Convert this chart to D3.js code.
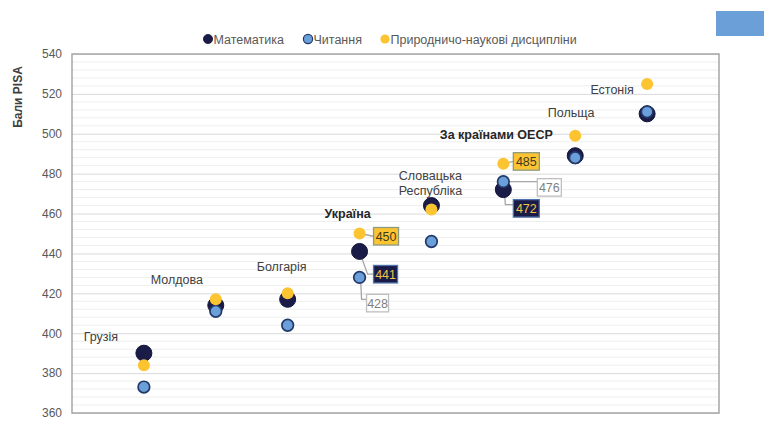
<!DOCTYPE html>
<html>
<head>
  <meta charset="utf-8">
  <title>Бали PISA</title>
  <script src="https://d3js.org/d3.v7.min.js"></script>
  <style>
    body { margin: 0; background: #fff; }
    text { font-family: "Liberation Sans", Arial, sans-serif; }
  </style>
</head>
<body>
<div id="viz_1"></div>

<script>

  // data
  var countries = ["Грузія", "Молдова", "Болгарія", "Україна", "Словацька Республіка",
    "За країнами ОЕСР", "Польща", "Естонія"];
  var mathScores = [390, 414, 417, 441, 464, 472, 489, 510];
  var readingScores = [373, 411, 404, 428, 446, 476, 488, 511];
  var scienceScores = [384, 417, 420, 450, 462, 485, 499, 525];
  var seriesNames = ["Математика", "Читання", "Природничо-наукові дисципліни"];
  var yTicks = [360, 380, 400, 420, 440, 460, 480, 500, 520, 540];

  var series = [
    { name: seriesNames[0], values: mathScores, fill: "#1b1b48", stroke: "#14143a", r: 8, sw: 1 },
    { name: seriesNames[1], values: readingScores, fill: "#6a9fd9", stroke: "#22386a", r: 5.8, sw: 1.7 },
    { name: seriesNames[2], values: scienceScores, fill: "#fcc431", stroke: "none", r: 6, sw: 0 }
  ];

  var W = 764, H = 428;
  var margin = { top: 54, right: 45, bottom: 15, left: 72 };

  var svg = d3.select("#viz_1")
    .append("svg")
    .attr("width", W)
    .attr("height", H);

  // scales: categories sit on 1..n of a linear axis
  var x = d3.scaleLinear()
    .domain([0, countries.length + 1])
    .range([margin.left, W - margin.right]);

  var y = d3.scaleLinear()
    .domain([360, 540])
    .range([H - margin.bottom, margin.top]);

  // minor gridlines every 4 points
  svg.append("g")
    .selectAll("line")
    .data(d3.range(360, 541, 4).filter(function (v) { return v % 20 != 0 }))
    .enter()
    .append("line")
    .attr("x1", x(0)).attr("x2", x(countries.length + 1))
    .attr("y1", function (d) { return y(d) }).attr("y2", function (d) { return y(d) })
    .attr("stroke", "#eeeeee")
    .attr("stroke-width", 1);

  // major gridlines and tick labels
  var yAxis = svg.append("g")
    .attr("transform", "translate(" + margin.left + ",0)")
    .call(d3.axisLeft(y).tickValues(yTicks).tickSize(-(x(countries.length + 1) - x(0))).tickPadding(10));
  yAxis.select(".domain").remove();
  yAxis.selectAll(".tick line").attr("stroke", "#d9d9d9");
  yAxis.selectAll(".tick text")
    .attr("fill", "#595959")
    .style("font-size", "12px")
    .style("font-family", "'Liberation Sans', Arial, sans-serif");

  // plot frame
  svg.append("rect")
    .attr("x", x(0)).attr("y", y(540))
    .attr("width", x(countries.length + 1) - x(0))
    .attr("height", y(360) - y(540))
    .attr("fill", "none")
    .attr("stroke", "#a6a6a6")
    .attr("stroke-width", 1.5);

  // y title
  svg.append("text")
    .attr("transform", "translate(22," + 97 + ") rotate(-90)")
    .attr("text-anchor", "middle")
    .attr("fill", "#404040")
    .style("font-size", "12px")
    .style("font-weight", "bold")
    .text("Бали PISA");

  // callout leader lines + boxes (drawn before points)
  // dx/top: box offset from point, w: box width; kind picks style
  var callouts = [
    { c: 3, s: 2, dx: 14, top: -6, w: 25, kind: "y", elbow: "straight" },
    { c: 3, s: 0, dx: 14, top: 14, w: 24, kind: "n", elbow: "diag" },
    { c: 3, s: 1, dx: 7, top: 17, w: 22, kind: "w", elbow: "down" },
    { c: 5, s: 2, dx: 10, top: -11, w: 26, kind: "y", elbow: "straight" },
    { c: 5, s: 1, dx: 34, top: -3, w: 24, kind: "w", elbow: "flat" },
    { c: 5, s: 0, dx: 10, top: 10, w: 26, kind: "n", elbow: "down" }
  ];
  var boxStyle = {
    y: { fill: "#fcc431", stroke: "#8c9a80", text: "#403a20" },
    n: { fill: "#1b1b48", stroke: "#4f74ad", text: "#f2c347" },
    w: { fill: "#ffffff", stroke: "#bfbfbf", text: "#7f7f7f" }
  };
  var boxH = 17.5;

  var gCall = svg.append("g");
  callouts.forEach(function (d) {
    var px = x(d.c + 1), py = y(series[d.s].values[d.c]);
    var bx = px + d.dx, by = py + d.top, cy = by + boxH / 2;
    var path;
    if (d.elbow == "straight") path = [[px, py], [bx, cy]];
    else if (d.elbow == "diag") path = [[px, py], [bx - 6, cy], [bx, cy]];
    else if (d.elbow == "down") path = [[px + 1, py], [px + 2, by + 5], [bx, by + 5]];
    else path = [[px, py], [bx, py]];
    gCall.append("path")
      .attr("d", d3.line()(path))
      .attr("fill", "none")
      .attr("stroke", "#a6a6a6")
      .attr("stroke-width", 1.3);
    var st = boxStyle[d.kind];
    gCall.append("rect")
      .attr("x", bx).attr("y", by)
      .attr("width", d.w).attr("height", boxH)
      .attr("fill", st.fill)
      .attr("stroke", st.stroke)
      .attr("stroke-width", 1.3);
    gCall.append("text")
      .attr("x", bx + d.w / 2).attr("y", cy + 4.5)
      .attr("text-anchor", "middle")
      .attr("fill", st.text)
      .style("font-size", "12.5px")
      .text(series[d.s].values[d.c]);
  });

  // points: math, then reading, then science on top
  series.forEach(function (s) {
    svg.append("g")
      .selectAll("circle")
      .data(s.values)
      .enter()
      .append("circle")
      .attr("cx", function (d, i) { return x(i + 1) })
      .attr("cy", function (d) { return y(d) })
      .attr("r", s.r)
      .attr("fill", s.fill)
      .attr("stroke", s.stroke)
      .attr("stroke-width", s.sw);
  });

  // country labels: dx in px from the category, ly in score units
  var labelPos = [
    { dx: -43, ly: 396, bold: false },
    { dx: -39, ly: 424.5, bold: false },
    { dx: -6, ly: 431, bold: false },
    { dx: -12, ly: 458, bold: true },
    { dx: -1, ly: 477, bold: false },
    { dx: -7, ly: 497.6, bold: true },
    { dx: -4, ly: 508.5, bold: false },
    { dx: -35, ly: 519.8, bold: false }
  ];
  countries.forEach(function (name, i) {
    var lp = labelPos[i];
    var t = svg.append("text")
      .attr("x", x(i + 1) + lp.dx)
      .attr("y", y(lp.ly))
      .attr("text-anchor", "middle")
      .attr("fill", lp.bold ? "#262626" : "#404040")
      .style("font-size", "12.5px")
      .style("font-weight", lp.bold ? "bold" : "normal");
    var parts = name == "Словацька Республіка" ? ["Словацька", "Республіка"] : [name];
    parts.forEach(function (p, k) {
      t.append("tspan")
        .attr("x", x(i + 1) + lp.dx)
        .attr("dy", k == 0 ? 0 : 15)
        .text(p);
    });
  });

  // legend
  var legend = svg.append("g").attr("transform", "translate(208,39)");
  var legX = [0, 100, 177];
  series.forEach(function (s, i) {
    var g = legend.append("g").attr("transform", "translate(" + legX[i] + ",0)");
    g.append("circle")
      .attr("r", 4.6)
      .attr("fill", s.fill)
      .attr("stroke", s.stroke == "none" ? "none" : s.stroke)
      .attr("stroke-width", i == 1 ? 1.2 : 0.8);
    g.append("text")
      .attr("x", 5.5).attr("y", 4.5)
      .attr("fill", "#595959")
      .style("font-size", "12.5px")
      .text(s.name);
  });

  // blue tab in the corner
  svg.append("rect")
    .attr("x", 716).attr("y", 11)
    .attr("width", 48).attr("height", 25)
    .attr("fill", "#6b9fd7");

</script>
</body>
</html>
